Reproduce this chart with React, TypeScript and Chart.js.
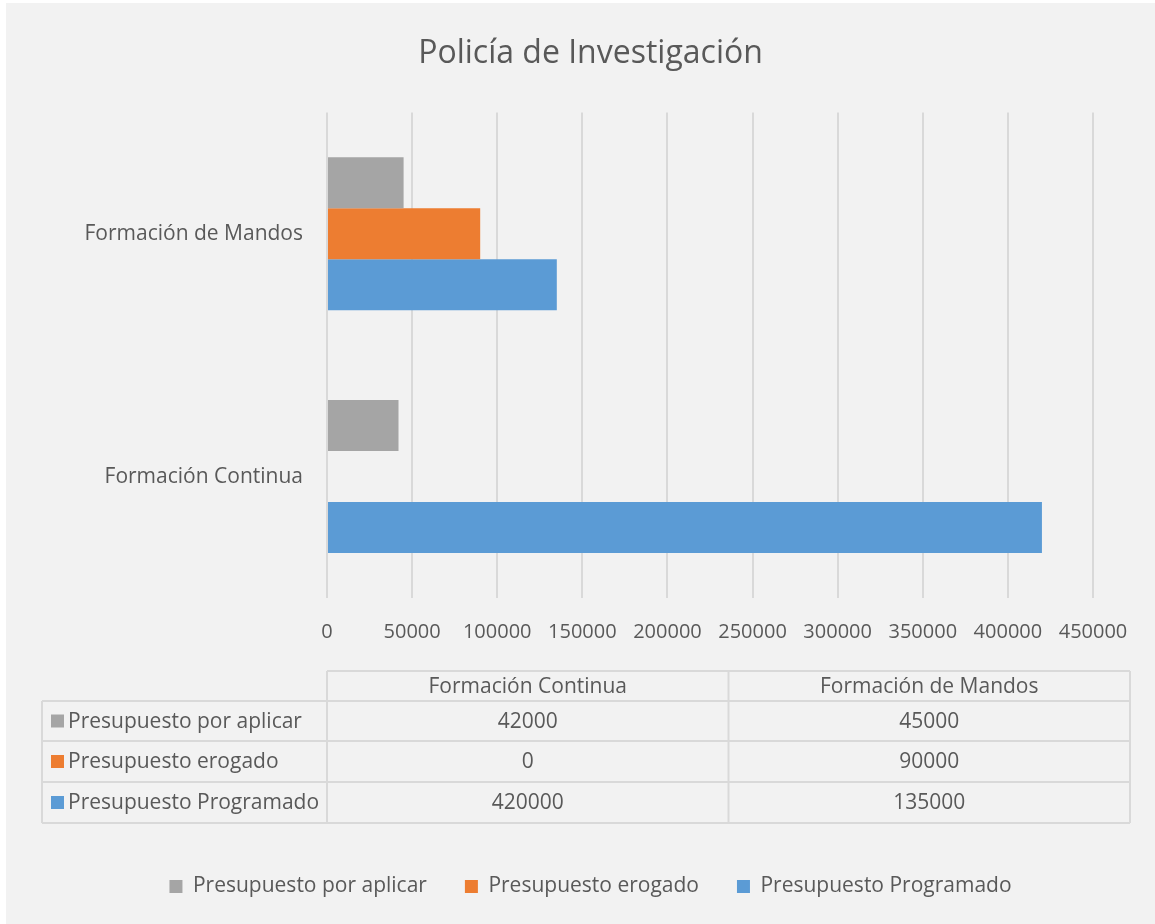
import React, { useEffect, useRef } from "react";
import { Chart, registerables } from "chart.js";

Chart.register(...registerables);

const chartTitle = "Policía de Investigación";
const categories = ["Formación Continua", "Formación de Mandos"];
const seriesNames = ["Presupuesto por aplicar", "Presupuesto erogado", "Presupuesto Programado"];
const porAplicar = [42000, 45000];
const erogado = [0, 90000];
const programado = [420000, 135000];
const seriesColors = ["#A5A5A5", "#ED7D31", "#5B9BD5"];
const xMin = 0;
const xMax = 450000;
const xStep = 50000;

const FONT = "'Open Sans', 'Noto Sans', sans-serif";
const TEXT = "#595959";
const GRID = "#D9D9D9";
const LABEL_SIZE = 21;

const tablePlugin = {
  id: "dataTable",
  afterDraw(chart: any) {
    const { ctx, chartArea } = chart;
    const L = chartArea.left;
    const B = chartArea.bottom;
    const R = chartArea.right + 37;
    const left = L - 285;
    const colW = (R - L) / 2;
    const headTop = B + 73;
    const rows = [B + 103, B + 143, B + 184, B + 225];
    const series = [porAplicar, erogado, programado];
    ctx.save();
    ctx.strokeStyle = GRID;
    ctx.lineWidth = 2;
    ctx.beginPath();
    ctx.moveTo(L, headTop);
    ctx.lineTo(R, headTop);
    rows.forEach((y) => {
      ctx.moveTo(left, y);
      ctx.lineTo(R, y);
    });
    ctx.moveTo(left, rows[0]);
    ctx.lineTo(left, rows[3]);
    ctx.moveTo(L, headTop);
    ctx.lineTo(L, rows[3]);
    ctx.moveTo(L + colW, headTop);
    ctx.lineTo(L + colW, rows[3]);
    ctx.moveTo(R, headTop);
    ctx.lineTo(R, rows[3]);
    ctx.stroke();

    ctx.fillStyle = TEXT;
    ctx.font = `${LABEL_SIZE}px ${FONT}`;
    ctx.textBaseline = "middle";
    ctx.textAlign = "center";
    categories.forEach((c, i) => {
      ctx.fillText(c, L + colW * i + colW / 2, (headTop + rows[0]) / 2 + 1);
    });
    series.forEach((vals, s) => {
      const yc = (rows[s] + rows[s + 1]) / 2;
      ctx.fillStyle = seriesColors[s];
      ctx.fillRect(left + 9, yc - 6.5, 13, 13);
      ctx.fillStyle = TEXT;
      ctx.textAlign = "left";
      ctx.fillText(seriesNames[s], left + 26, yc + 1);
      ctx.textAlign = "center";
      vals.forEach((v, i) => {
        ctx.fillText(String(v), L + colW * i + colW / 2, yc + 1);
      });
    });
    ctx.restore();
  },
};

export default function App() {
  const ref = useRef<HTMLCanvasElement | null>(null);
  useEffect(() => {
    document.body.style.margin = "0";
    const canvas = ref.current;
    if (!canvas) return;
    const chart = new Chart(canvas, {
      type: "bar",
      data: {
        labels: categories,
        datasets: [
          { label: seriesNames[0], data: porAplicar, backgroundColor: seriesColors[0], borderWidth: 0 },
          { label: seriesNames[1], data: erogado, backgroundColor: seriesColors[1], borderWidth: 0 },
          { label: seriesNames[2], data: programado, backgroundColor: seriesColors[2], borderWidth: 0 },
        ],
      },
      options: {
        indexAxis: "y",
        animation: false,
        responsive: false,
        maintainAspectRatio: false,
        datasets: { bar: { categoryPercentage: 0.63, barPercentage: 1 } },
        layout: { padding: { left: 20, right: 0, top: 0, bottom: 17 } },
        plugins: {
          title: {
            display: true,
            text: chartTitle,
            color: TEXT,
            font: { family: FONT, size: 32, weight: "normal" },
            padding: { top: 32, bottom: 39 },
          },
          legend: {
            position: "bottom",
            labels: {
              color: TEXT,
              font: { family: FONT, size: LABEL_SIZE },
              boxWidth: 13,
              boxHeight: 13,
              padding: 38,
            },
          },
          tooltip: { enabled: false },
        },
        scales: {
          x: {
            min: xMin,
            max: xMax,
            ticks: {
              stepSize: xStep,
              color: TEXT,
              font: { family: FONT, size: 20 },
              padding: 22,
              maxRotation: 0,
              autoSkip: false,
              callback: (v: any) => String(v),
            },
            grid: { color: GRID, lineWidth: 2, drawTicks: false },
            border: { display: false },
            afterFit(scale: any) {
              const lg = scale.chart.legend;
              scale.height = scale.chart.height - 595 - (lg ? lg.height : 0) - 17;
            },
          },
          y: {
            reverse: true,
            ticks: { color: TEXT, font: { family: FONT, size: LABEL_SIZE }, padding: 24 },
            grid: { display: false, drawTicks: false },
            border: { display: false },
            afterFit(scale: any) {
              scale.width = 301;
            },
          },
          yRight: {
            type: "linear",
            position: "right",
            display: true,
            ticks: { display: false },
            grid: { display: false, drawTicks: false },
            border: { display: false },
            afterFit(scale: any) {
              scale.width = 62;
            },
          },
        },
      },
      plugins: [tablePlugin],
    });
    return () => chart.destroy();
  }, []);
  return (
    <div style={{ position: "relative", width: 1155, height: 924, background: "#fff" }}>
      <canvas
        ref={ref}
        width={1149}
        height={921}
        style={{ position: "absolute", left: 6, top: 3, width: 1149, height: 921, background: "#F2F2F2" }}
      />
    </div>
  );
}
